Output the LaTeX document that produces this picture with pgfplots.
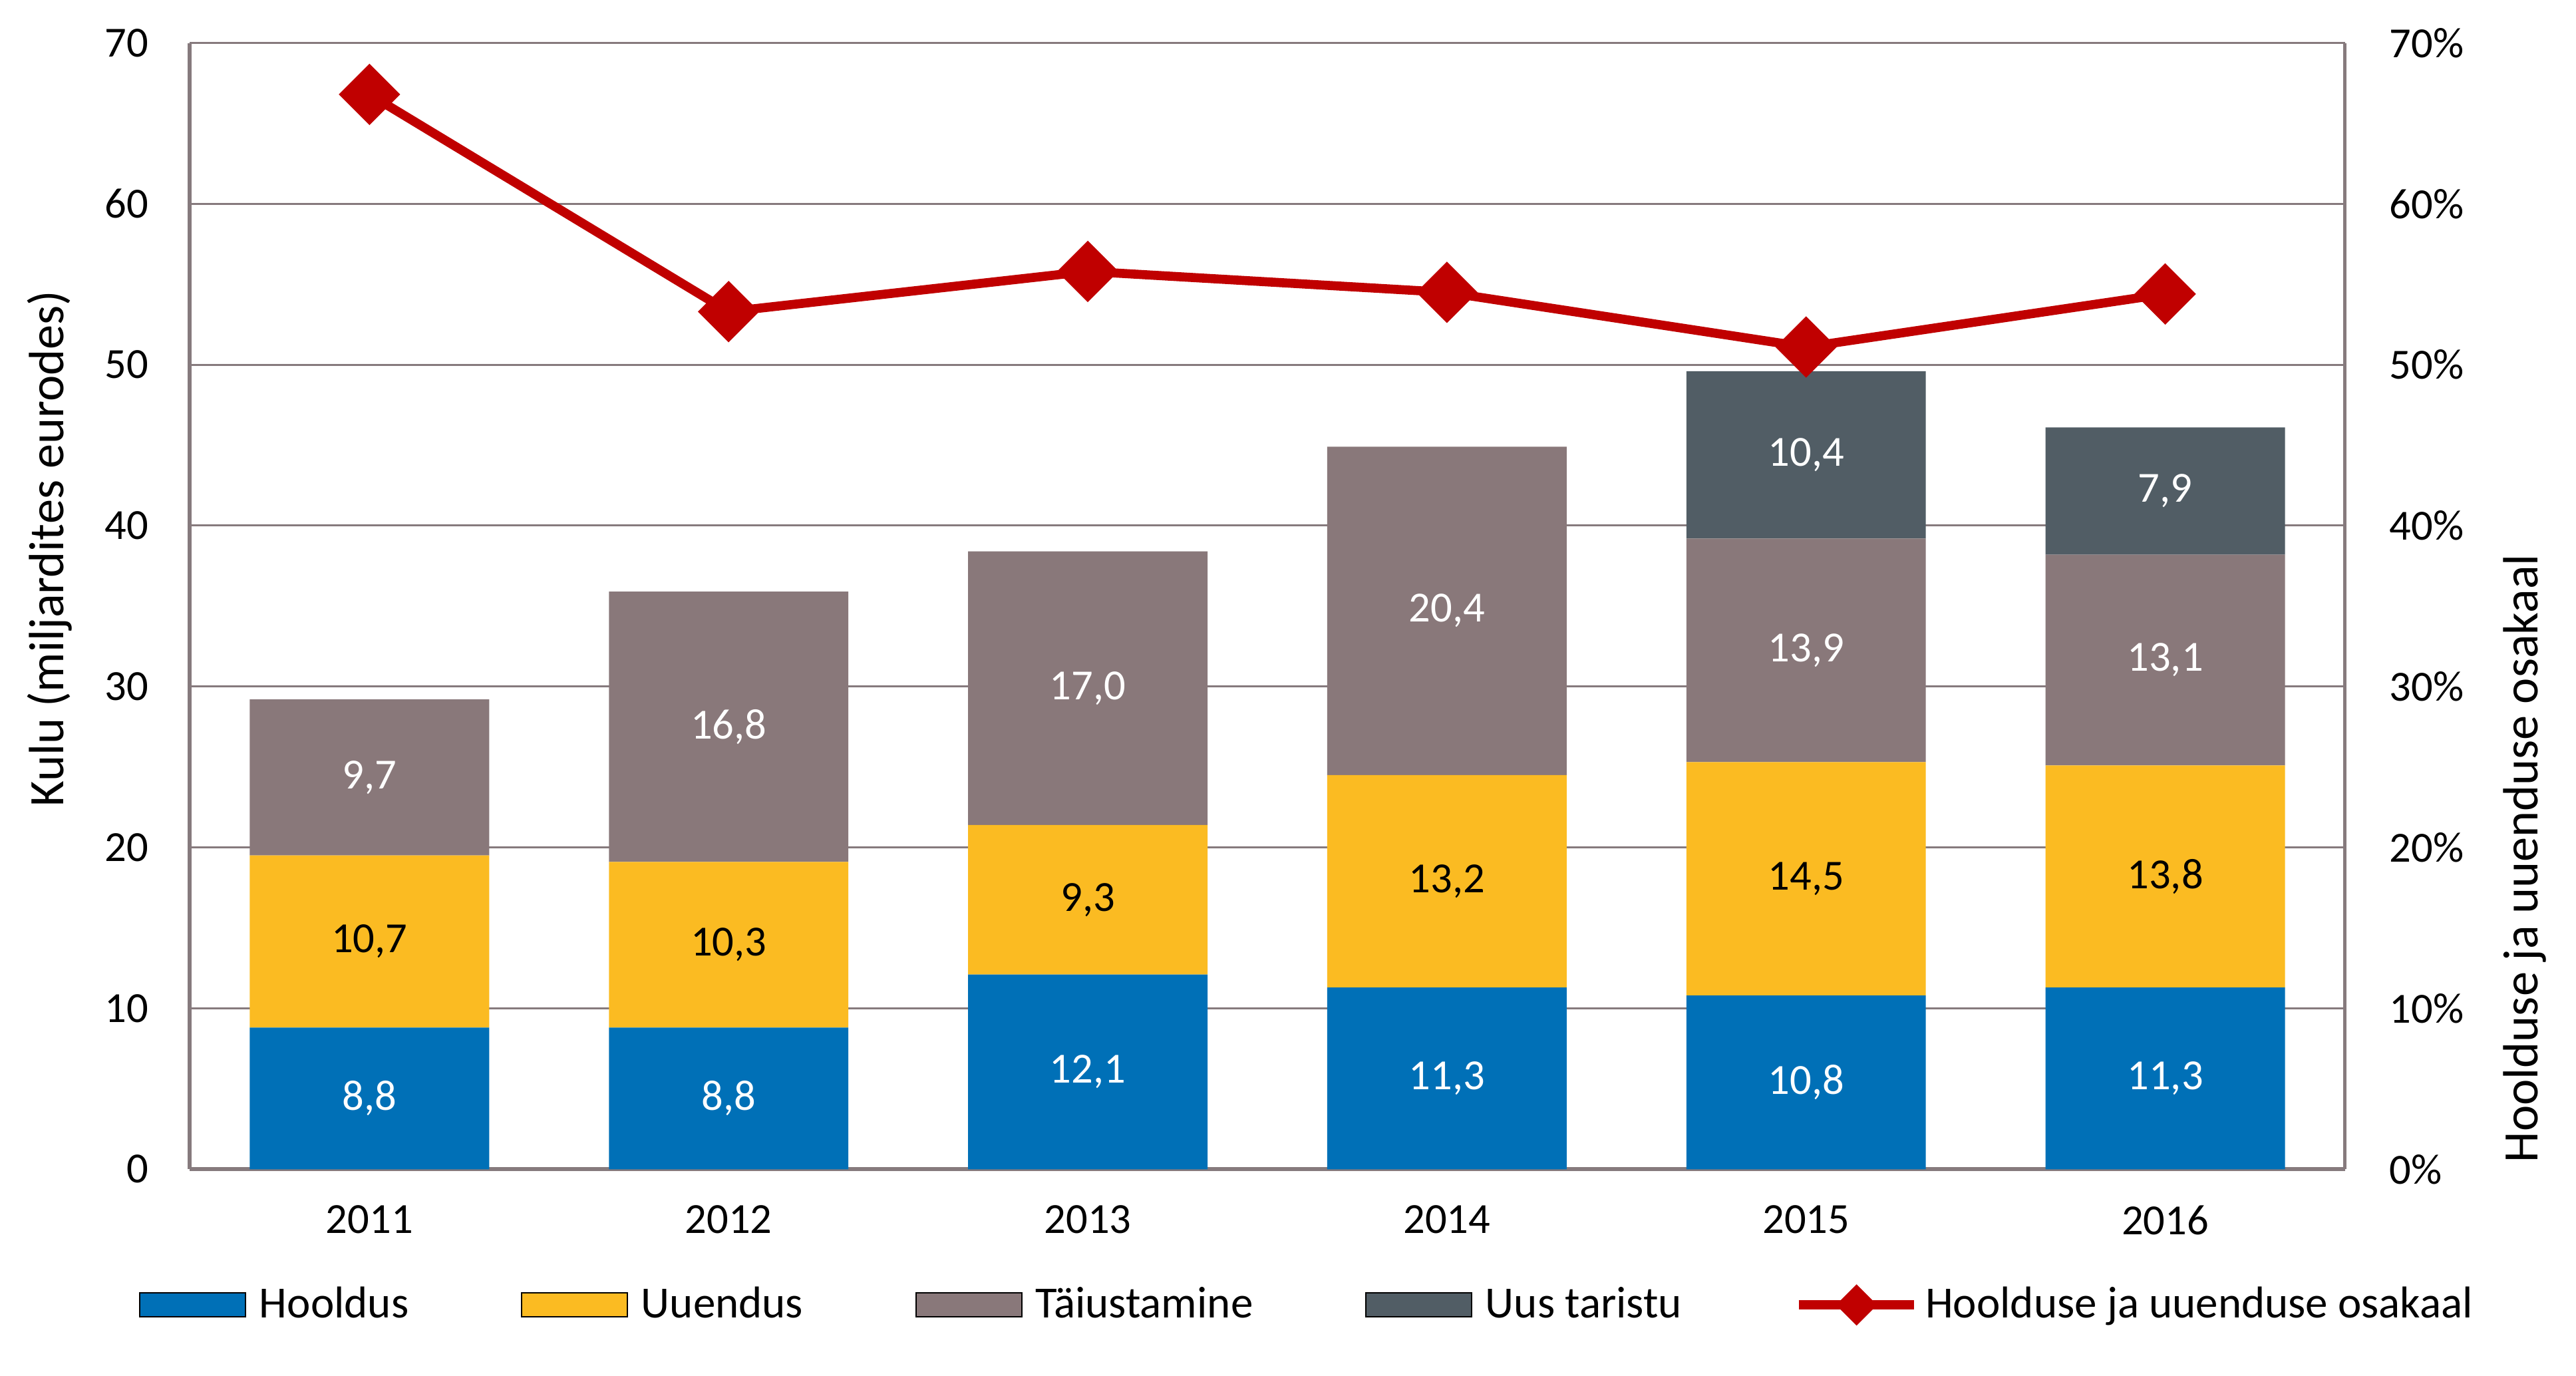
\documentclass[border=0pt]{standalone}
\usepackage{pgfplots}
\pgfplotsset{compat=1.18}
\usepackage{pgfplotstable}
\usepackage{fontspec}
\setmainfont{Carlito}
\definecolor{hblue}{RGB}{0,112,183}
\definecolor{hyellow}{RGB}{251,187,34}
\definecolor{hmauve}{RGB}{137,120,122}
\definecolor{hdark}{RGB}{81,93,101}
\definecolor{hred}{RGB}{192,0,0}
\definecolor{axcol}{RGB}{134,122,125}
\pgfplotsset{
  barleg/.style={/pgfplots/legend image code/.code={\fill[##1] (0pt,-3.6pt) rectangle (32pt,3.6pt); \path (34pt,0pt);}},
  lineleg/.style={/pgfplots/legend image code/.code={\draw[##1,mark=none] (0pt,0pt) -- (35pt,0pt); \fill[hred] (17.5pt,4.3pt) -- (21.8pt,0pt) -- (17.5pt,-4.3pt) -- (13.2pt,0pt) -- cycle;}},
  common/.style={
    scale only axis, width=652.5pt, height=341pt,
    xmin=-0.5, xmax=5.5, ymin=0, ymax=70,
    enlarge x limits=false, enlarge y limits=false,
    /pgf/number format/assume math mode=true,
    major tick length=0pt,
    tick label style={font=\fontsize{13}{15}\selectfont},
    label style={font=\fontsize{15}{18}\selectfont},
    axis line style={-, draw=axcol, line width=1.2pt},
  },
  barlab/.style={
    forget plot, draw=none, mark=none,
    point meta=explicit,
    nodes near coords={\pgfmathfloatifflags{\pgfplotspointmeta}{0}{}{\pgfmathprintnumber[fixed,fixed zerofill,precision=1,use comma]{\pgfplotspointmeta}}},
    every node near coord/.append style={anchor=center, font=\fontsize{13}{15}\selectfont, text=#1},
  },
}
\pgfplotstableread{
x h u t n p
0 8.8 10.7 9.7 0 66.8
1 8.8 10.3 16.8 0 53.3
2 12.1 9.3 17.0 0 55.8
3 11.3 13.2 20.4 0 54.5
4 10.8 14.5 13.9 10.4 51.1
5 11.3 13.8 13.1 7.9 54.4
}\data
\begin{document}
\begin{tikzpicture}
\path[use as bounding box] (-57.5pt,-62.5pt) rectangle (722.5pt,354pt);
\begin{axis}[common,
  ybar stacked, bar width=72.5pt,
  axis x line*=bottom, axis y line*=left,
  ytick={0,10,...,70},
  xtick={0,...,5}, xticklabels={2011,2012,2013,2014,2015,2016},
  ymajorgrids, grid style={draw=axcol, line width=0.6pt},
  yticklabel style={xshift=-9pt},
  xticklabel style={yshift=-7.5pt},
  ylabel={Kulu (miljardites eurodes)},
  ylabel style={at={(rel axis cs:-0.0651,0.551)}, anchor=center},
]
\addplot[fill=hblue, draw=none] table[x=x,y=h]{\data};
\addplot[fill=hyellow, draw=none] table[x=x,y=u]{\data};
\addplot[fill=hmauve, draw=none] table[x=x,y=t]{\data};
\addplot[fill=hdark, draw=none] table[x=x,y=n]{\data};
\end{axis}
\begin{axis}[common,
  axis x line=none, axis y line*=right,
  ytick={0,10,...,70},
  yticklabel={\pgfmathprintnumber{\tick}\%},
  yticklabel style={xshift=10pt},
  ylabel={Hoolduse ja uuenduse osakaal},
  ylabel style={at={(rel axis cs:1.0836,0.276)}, anchor=center},
  clip=false,
  legend columns=5,
  legend style={at={(0.5195,-0.1205)}, anchor=center, draw=none, fill=none,
    font=\fontsize{13.5}{16}\selectfont,
    /tikz/every even column/.append style={column sep=32pt}},
]
\addlegendimage{barleg, fill=hblue}
\addlegendimage{barleg, fill=hyellow}
\addlegendimage{barleg, fill=hmauve}
\addlegendimage{barleg, fill=hdark}
\addplot[lineleg, color=hred, line width=2.75pt, mark=square*, mark size=5.2pt, mark options={rotate=45, solid}] table[x=x,y=p]{\data};
\legend{Hooldus, Uuendus, Täiustamine, Uus taristu, Hoolduse ja uuenduse osakaal}
\addplot[barlab=white] table[x=x, y expr=\thisrow{h}/2, meta=h]{\data};
\addplot[barlab=black] table[x=x, y expr=\thisrow{h}+\thisrow{u}/2, meta=u]{\data};
\addplot[barlab=white] table[x=x, y expr=\thisrow{h}+\thisrow{u}+\thisrow{t}/2, meta=t]{\data};
\addplot[barlab=white] table[x=x, y expr=\thisrow{h}+\thisrow{u}+\thisrow{t}+\thisrow{n}/2, meta=n]{\data};
\end{axis}
\end{tikzpicture}
\end{document}
